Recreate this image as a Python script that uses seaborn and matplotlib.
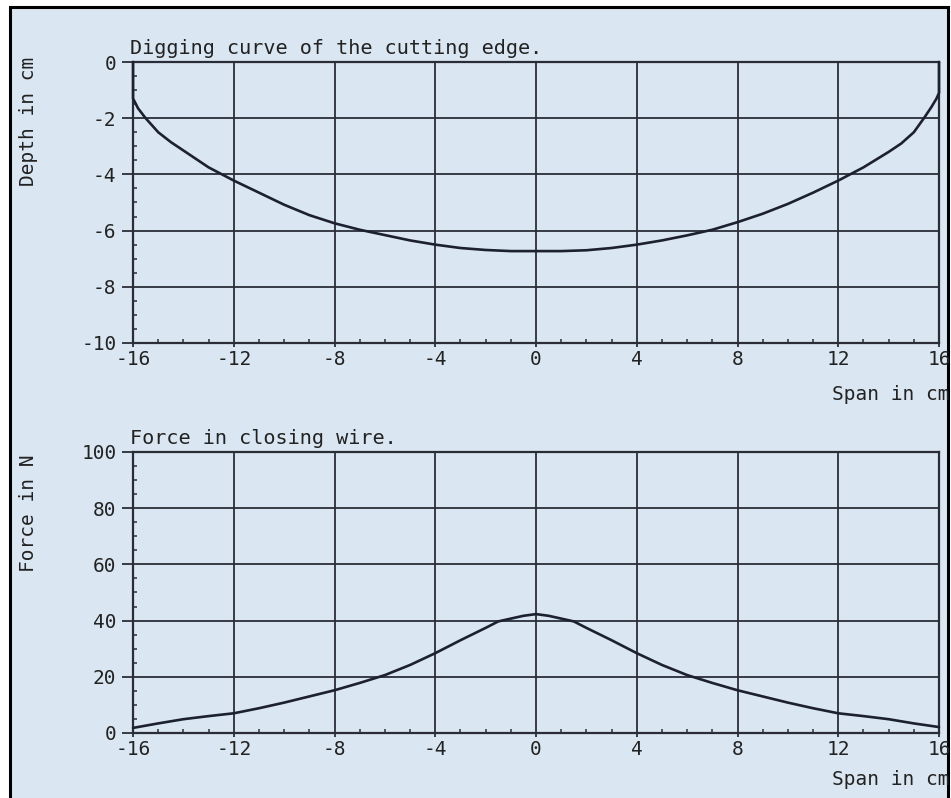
import matplotlib
matplotlib.use('Agg')
import matplotlib.pyplot as plt
import seaborn as sns
import pandas as pd
from matplotlib.patches import Rectangle
from matplotlib.ticker import MultipleLocator

# digging curve of the cutting edge (span in cm, depth in cm)
span_dig = [-16, -16, -15.8, -15.5, -15.2, -15, -14.5, -14, -13, -12, -11, -10, -9, -8, -7, -6, -5, -4,
            -3, -2, -1, 0, 1, 2, 3, 4, 5, 6, 7, 8, 9, 10, 11, 12, 13, 14, 14.5, 15, 15.4, 15.7, 15.9, 16, 16]
depth = [0, -1.3, -1.65, -2.0, -2.3, -2.5, -2.85, -3.15, -3.75, -4.22, -4.65, -5.08, -5.45, -5.74, -5.97,
         -6.16, -6.35, -6.5, -6.62, -6.69, -6.73, -6.73, -6.73, -6.7, -6.62, -6.5, -6.35, -6.17, -5.97,
         -5.7, -5.4, -5.05, -4.65, -4.22, -3.75, -3.2, -2.9, -2.5, -2.0, -1.6, -1.3, -1.1, 0]

# force in closing wire (span in cm, force in N)
span_force = [-16, -15, -14, -13, -12, -11, -10, -9, -8, -7, -6, -5, -4, -3, -2, -1.5, -1, -0.5, 0,
              0.5, 1, 1.5, 2, 3, 4, 5, 6, 7, 8, 9, 10, 11, 12, 13, 14, 15, 16]
force = [1.8, 3.4, 4.9, 6.0, 7.0, 8.8, 10.8, 13.0, 15.2, 17.8, 20.6, 24.2, 28.4, 33.0, 37.4, 39.7, 40.7,
         41.7, 42.3, 41.7, 40.7, 39.7, 37.4, 33.0, 28.4, 24.2, 20.6, 17.8, 15.2, 13.0, 10.8, 8.8, 7.0,
         6.0, 4.9, 3.4, 2.1]

x_ticks = [-16, -12, -8, -4, 0, 4, 8, 12, 16]

sns.set_style('ticks')
plt.rcParams['font.family'] = ['DejaVu Sans Mono']
plt.rcParams['axes.unicode_minus'] = False

ink = '#1c2030'
paper = '#dae6f1'

fig = plt.figure(figsize=(9.51, 7.98), dpi=100, facecolor='white')
fig.patches.append(Rectangle((0.0105, -0.01), 0.9863, 1.0017, transform=fig.transFigure,
                             facecolor=paper, edgecolor='black', lw=2.2, zorder=-1))

ax1 = fig.add_axes([0.1399, 0.5702, 0.8475, 0.3521])
ax2 = fig.add_axes([0.1399, 0.0815, 0.8475, 0.3521])

df_dig = pd.DataFrame({'span': span_dig, 'depth': depth})
df_force = pd.DataFrame({'span': span_force, 'force': force})

sns.lineplot(data=df_dig, x='span', y='depth', ax=ax1, sort=False, estimator=None,
             color=ink, lw=1.9, zorder=3, clip_on=False)
sns.lineplot(data=df_force, x='span', y='force', ax=ax2, sort=False, estimator=None,
             color=ink, lw=1.9, zorder=3, clip_on=False)

for ax, ylim, ymaj, ymin in [(ax1, (-10, 0), 2, 0.5), (ax2, (0, 100), 20, 5)]:
    ax.set_facecolor('none')
    ax.set_xlim(-16, 16)
    ax.set_ylim(*ylim)
    ax.set_xticks(x_ticks)
    ax.yaxis.set_major_locator(MultipleLocator(ymaj))
    ax.yaxis.set_minor_locator(MultipleLocator(ymin))
    ax.xaxis.set_minor_locator(MultipleLocator(1))
    ax.grid(True, which='major', color='#2a2d38', lw=1.3)
    for s in ax.spines.values():
        s.set_color('#2a2d38')
        s.set_linewidth(1.6)
    ax.tick_params(which='major', axis='y', direction='out', length=8, width=1.3,
                   colors='#2a2d38', labelsize=14, pad=4)
    ax.tick_params(which='major', axis='x', direction='out', length=3, width=1.3,
                   colors='#2a2d38', labelsize=14, pad=2)
    ax.tick_params(which='minor', direction='in', length=3, width=1.1, colors='#2a2d38')
    for lab in ax.get_xticklabels() + ax.get_yticklabels():
        lab.set_color('#222')
    ax.set_xlabel('Span in cm', fontsize=14, color='#222', loc='right')
    ax.xaxis.label.set_va('center')

ax1.xaxis.set_label_coords(1.013, -0.185)
ax2.xaxis.set_label_coords(1.013, -0.167)

ax1.set_ylabel('Depth in cm', fontsize=14, color='#222', loc='top')
ax2.set_ylabel('Force in N', fontsize=14, color='#222', loc='top')
for ax in (ax1, ax2):
    ax.yaxis.label.set_va('center')
ax1.yaxis.set_label_coords(-0.13, 1.018)
ax2.yaxis.set_label_coords(-0.13, 0.99)

ax1.set_title('Digging curve of the cutting edge.', loc='left', fontsize=14.5,
              color='#222', pad=6, x=-0.004)
ax2.set_title('Force in closing wire.', loc='left', fontsize=14.5,
              color='#222', pad=6, x=-0.004)

fig.savefig('out.png', dpi=100, facecolor=fig.get_facecolor())
